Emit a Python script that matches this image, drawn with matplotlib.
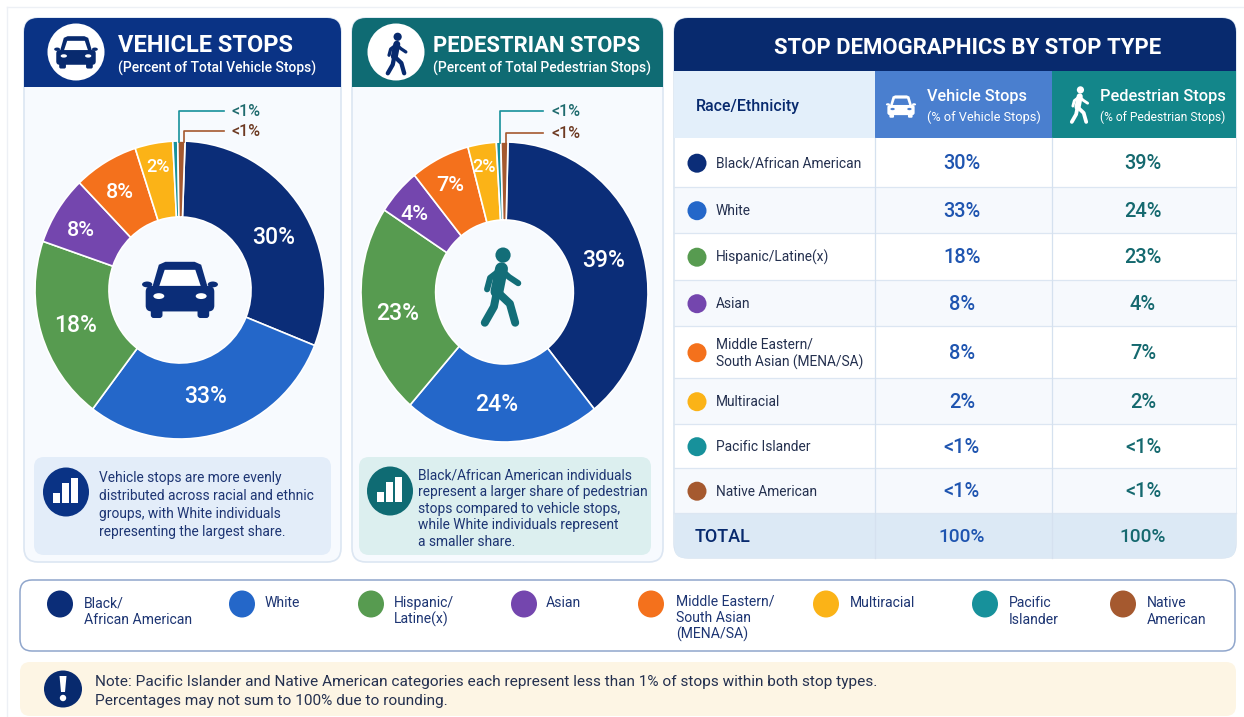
"""
Stop demographics infographic: two donuts, a table, legend and note.
Everything is laid out in pixel coordinates of the 1244x717 canvas.
"""
import numpy as np
import matplotlib
matplotlib.use("Agg")
import matplotlib.pyplot as plt
from matplotlib.patches import Circle, FancyBboxPatch, PathPatch, Polygon, Rectangle, Ellipse
from matplotlib.path import Path

plt.rcParams["font.family"] = ["Roboto", "DejaVu Sans"]

# ── Data ──────────────────────────────────────────────────────────────────────
groups = ["Black/African American", "White", "Hispanic/Latine(x)", "Asian",
          "Middle Eastern/\nSouth Asian (MENA/SA)", "Multiracial",
          "Pacific Islander", "Native American"]
legend_labels = ["Black/\nAfrican American", "White", "Hispanic/\nLatine(x)", "Asian",
                 "Middle Eastern/\nSouth Asian\n(MENA/SA)", "Multiracial",
                 "Pacific\nIslander", "Native\nAmerican"]
vehicle_labels = ["30%", "33%", "18%", "8%", "8%", "2%", "<1%", "<1%"]
pedestrian_labels = ["39%", "24%", "23%", "4%", "7%", "2%", "<1%", "<1%"]
# wedge sizes as they are actually drawn in the picture (not the rounded labels)
vehicle_shares = [30.5, 29.2, 20.0, 7.5, 7.2, 4.2, 0.55, 0.8]
pedestrian_shares = [38.9, 22.2, 22.8, 5.0, 6.7, 3.2, 0.5, 0.8]
total_labels = ["100%", "100%"]

vehicle_note = ["Vehicle stops are more evenly", "distributed across racial and ethnic",
                "groups, with White individuals", "representing the largest share."]
pedestrian_note = ["Black/African American individuals", "represent a larger share of pedestrian",
                   "stops compared to vehicle stops,", "while White individuals represent",
                   "a smaller share."]
footnote = ["Note: Pacific Islander and Native American categories each represent less than 1% of stops within both stop types.",
            "Percentages may not sum to 100% due to rounding."]

# ── Style ─────────────────────────────────────────────────────────────────────
W, H = 1244, 717
COLORS = ["#0B2D78", "#2467C9", "#579B50", "#7446AE", "#F4711C", "#FBB317", "#17919B", "#A5592F"]
NAVY = "#0A3385"
DEEP_NAVY = "#082A6E"
TEAL = "#0F6B73"
INK = "#1D3573"
GREY_INK = "#24304F"


def px(size):
    return size * 0.72


def round_rect(ax, x0, y0, x1, y1, r, fc, ec="none", lw=0, zorder=1):
    ax.add_patch(FancyBboxPatch((x0 + r, y0 + r), x1 - x0 - 2 * r, y1 - y0 - 2 * r,
                                boxstyle=f"round,pad={r},rounding_size={r}",
                                fc=fc, ec=ec, lw=lw, zorder=zorder))


def top_round_rect(ax, x0, y0, x1, y1, r, fc, zorder=2):
    verts = [(x0, y1), (x0, y0 + r), (x0, y0), (x0 + r, y0), (x1 - r, y0), (x1, y0),
             (x1, y0 + r), (x1, y1), (x0, y1)]
    codes = [Path.MOVETO, Path.LINETO, Path.CURVE3, Path.CURVE3, Path.LINETO,
             Path.CURVE3, Path.CURVE3, Path.LINETO, Path.CLOSEPOLY]
    ax.add_patch(PathPatch(Path(verts, codes), fc=fc, ec="none", zorder=zorder))


def draw_car(ax, cx, cy, w, color, bg, zorder=5):
    def pts(p):
        return [(cx + a * w, cy + b * w) for a, b in p]
    ax.add_patch(Polygon(pts([(-.40, .02), (-.29, -.36), (-.2, -.40), (.2, -.40), (.29, -.36), (.40, .02)]),
                         fc=color, ec="none", zorder=zorder))
    ax.add_patch(Polygon(pts([(-.29, -.05), (-.21, -.29), (.21, -.29), (.29, -.05)]),
                         fc=bg, ec="none", zorder=zorder + 1))
    for s in (-1, 1):
        ax.add_patch(Ellipse((cx + s * .45 * w, cy - .09 * w), .14 * w, .08 * w, fc=color, ec="none", zorder=zorder))
        ax.add_patch(FancyBboxPatch((cx + (s * .32 - .08) * w, cy + .2 * w), .16 * w, .17 * w,
                                    boxstyle=f"round,pad=0,rounding_size={.04 * w}",
                                    fc=color, ec="none", zorder=zorder))
        ax.add_patch(Ellipse((cx + s * .29 * w, cy + .07 * w), .15 * w, .08 * w, fc=bg, ec="none", zorder=zorder + 2))
    ax.add_patch(FancyBboxPatch((cx - .47 * w, cy - .07 * w), .94 * w, .35 * w,
                                boxstyle=f"round,pad=0,rounding_size={.08 * w}",
                                fc=color, ec="none", zorder=zorder + 1))


def draw_walker(ax, cx, cy, h, color, zorder=5):
    ax.add_patch(Circle((cx + .04 * h, cy - .42 * h), .10 * h, fc=color, ec="none", zorder=zorder))
    limbs = [([.02, -.04], [-.24, .06], .17),
             ([.02, .12, .24], [-.22, -.13, -.05], .08),
             ([.0, -.13, -.17], [-.22, -.12, .03], .08),
             ([-.04, .13, .2], [.06, .22, .47], .105),
             ([-.04, -.08, -.2], [.06, .26, .47], .105)]
    for xs, ys, lw in limbs:
        ax.plot([cx + a * h for a in xs], [cy + b * h for b in ys], color=color,
                lw=px(lw * h), solid_capstyle="round", solid_joinstyle="round", zorder=zorder)


def draw_bars(ax, cx, cy):
    for dx, tp in zip((-13, -4, 5), (1, -9, -14)):
        ax.add_patch(Rectangle((cx + dx, cy + tp), 7, 11 - tp, fc="white", ec="none", zorder=6))


# ── Canvas ────────────────────────────────────────────────────────────────────
fig = plt.figure(figsize=(W / 100, H / 100), dpi=100, facecolor="white")
ax = fig.add_axes([0, 0, 1, 1], zorder=0)
top = fig.add_axes([0, 0, 1, 1], zorder=3)
for a in (ax, top):
    a.set_xlim(0, W)
    a.set_ylim(H, 0)
    a.axis("off")
top.patch.set_alpha(0)

ax.plot([7, 1244], [7, 7], color="#EDF0F5", lw=1)
ax.plot([7, 7], [7, 717], color="#EDF0F5", lw=1)

# ── Donut cards ───────────────────────────────────────────────────────────────
cards = [
    dict(x0=24, x1=341, head=NAVY, title="VEHICLE STOPS", sub="(Percent of Total Vehicle Stops)",
         tsize=23.6, ssize=13.9, tx=118, icon_x=76, shares=vehicle_shares, labels=vehicle_labels,
         c=(180, 290), r=(145, 149), start=88, hole=.49,
         dist=[.746, .72, .75, .80, .788, .853], ang=[29.7, -75.6, 197.1, 148.7, 121.7, 100.3],
         lx=(179, 184), lend=224, ltx=232, ly=(111, 131), note=vehicle_note,
         box=(34, 331), box_fc="#E3EDF9", nc=(66, 492), nx=99, ny=478, ndy=18, nfc=NAVY),
    dict(x0=352, x1=663, head=TEAL, title="PEDESTRIAN STOPS", sub="(Percent of Total Pedestrian Stops)",
         tsize=22, ssize=13.7, tx=433, icon_x=396, shares=pedestrian_shares, labels=pedestrian_labels,
         c=(504.5, 292), r=(143.5, 150), start=88.6, hole=.48,
         dist=[.729, .735, .753, .826, .82, .859], ang=[18.1, -94, 189.7, 139.8, 117.6, 99.6],
         lx=(500, 506), lend=543, ltx=551, ly=(111, 133), note=pedestrian_note,
         box=(359, 651), box_fc="#DCEFEF", nc=(390, 491), nx=418, ny=475, ndy=16.8, nfc=TEAL),
]

for card in cards:
    round_rect(ax, card["x0"], 18, card["x1"], 562, 14, "#F7FAFE", ec="#DCE6F2", lw=1.2)
    top_round_rect(ax, card["x0"], 18, card["x1"], 87, 14, card["head"])
    ax.add_patch(Circle((card["icon_x"], 52), 28.5, fc="white", ec="none", zorder=3))
    ax.text(card["tx"], 46, card["title"], color="white", fontsize=px(card["tsize"]), fontweight="bold",
            va="center", ha="left", zorder=4)
    ax.text(card["tx"], 68, card["sub"], color="white", fontsize=px(card["ssize"]), fontweight="medium",
            va="center", ha="left", zorder=4)

    # donut, slightly taller than wide like the picture
    cx, cy = card["c"]
    rx, ry = card["r"]
    pie_ax = fig.add_axes([(cx - rx) / W, 1 - (cy + ry) / H, 2 * rx / W, 2 * ry / H], zorder=2)
    wedges, _ = pie_ax.pie(card["shares"], colors=COLORS, startangle=card["start"], counterclock=False,
                           radius=1, wedgeprops=dict(width=1 - card["hole"], edgecolor="white", linewidth=1.2))
    pie_ax.set_aspect("auto")
    pie_ax.set_xlim(-1, 1)
    pie_ax.set_ylim(-1, 1)
    for label, d, a_deg in zip(card["labels"], card["dist"], card["ang"]):
        ang = np.deg2rad(a_deg)
        size = 23 if d < .78 else (21.5 if d < .85 else 18)
        pie_ax.text(d * np.cos(ang), d * np.sin(ang) - 2.5 / ry, label, color="white", fontsize=px(size),
                    fontweight="medium", ha="center", va="center")

    # callouts for the two thin wedges
    for x, y, color, tcolor, label in zip(card["lx"], card["ly"], COLORS[6:], ("#1F6B6E", "#6E3A22"), card["labels"][6:]):
        top.plot([x, x, card["lend"]], [cy - ry + 1, y, y], color=color, lw=1.2)
        top.text(card["ltx"], y + 0.5, label, color=tcolor, fontsize=px(16), fontweight="medium", va="center", ha="left")

    # takeaway box
    round_rect(ax, card["box"][0], 457, card["box"][1], 555, 10, card["box_fc"])
    ax.add_patch(Ellipse(card["nc"], 46, 49, fc=card["nfc"], ec="none", zorder=4))
    draw_bars(ax, card["nc"][0], card["nc"][1])
    for i, line in enumerate(card["note"]):
        ax.text(card["nx"], card["ny"] + i * card["ndy"], line, color=INK, fontsize=px(13.7), va="center", ha="left", zorder=4)

# icons in the card headers and donut holes
draw_car(ax, 76, 53, 42, DEEP_NAVY, "white")
draw_walker(ax, 396, 54, 41, DEEP_NAVY)
draw_car(top, 180, 291, 73, "#0B2D78", "white")
draw_walker(top, 500, 287, 76, "#136E78")

# ── Table ─────────────────────────────────────────────────────────────────────
col_x = [674, 875, 1052, 1236]
row_y = [138, 187, 233, 280, 326, 378, 424, 468, 513, 558]

round_rect(ax, 674, 18, 1236, 558, 14, "white", ec="#D5E1EF", lw=1)
for i in range(8):
    ax.add_patch(Rectangle((674.5, row_y[i]), 561, row_y[i + 1] - row_y[i],
                           fc="white" if i % 2 == 0 else "#F6F9FD", ec="none", zorder=2))
top_round_rect(ax, 674, 18, 1236, 71, 14, DEEP_NAVY)
ax.text(968, 48.5, "STOP DEMOGRAPHICS BY STOP TYPE", color="white", fontsize=px(22.1), fontweight="bold",
        ha="center", va="center", zorder=4)
ax.add_patch(Rectangle((674, 71), 201, 67, fc="#E3EFFA", ec="none", zorder=2))
ax.add_patch(Rectangle((875, 71), 177, 67, fc="#4A7FCF", ec="none", zorder=2))
ax.add_patch(Rectangle((1052, 71), 184, 67, fc="#13868A", ec="none", zorder=2))
ax.text(696, 106.5, "Race/Ethnicity", color=DEEP_NAVY, fontsize=px(16), fontweight="medium", va="center", zorder=4)
draw_car(ax, 901, 107, 29, "white", "#4A7FCF")
draw_walker(ax, 1079, 105, 36, "white")
ax.text(927, 96.5, "Vehicle Stops", color="white", fontsize=px(16.2), fontweight="medium", va="center", zorder=4)
ax.text(927, 117, "(% of Vehicle Stops)", color="white", fontsize=px(12.7), va="center", zorder=4)
ax.text(1100, 96.5, "Pedestrian Stops", color="white", fontsize=px(16.4), fontweight="medium", va="center", zorder=4)
ax.text(1100, 117, "(% of Pedestrian Stops)", color="white", fontsize=px(12), va="center", zorder=4)

for i, (name, color, v, p) in enumerate(zip(groups, COLORS, vehicle_labels, pedestrian_labels)):
    y = (row_y[i] + row_y[i + 1]) / 2 + 1.2
    ax.add_patch(Circle((697, y - 0.5), 9.5, fc=color, ec="none", zorder=4))
    lines = name.split("\n")
    for k, line in enumerate(lines):
        ax.text(716, y + (k - (len(lines) - 1) / 2) * 18, line, color=GREY_INK, fontsize=px(13.7), va="center", zorder=4)
    ax.text(962, y, v, color="#1F55B0", fontsize=px(20), fontweight="medium", ha="center", va="center", zorder=4)
    ax.text(1143, y, p, color="#15696F", fontsize=px(20), fontweight="medium", ha="center", va="center", zorder=4)

ax.add_patch(FancyBboxPatch((674.5, 513), 561, 45, boxstyle="round,pad=0,rounding_size=10", fc="#DCE9F5", ec="none", zorder=2))
ax.add_patch(Rectangle((674.5, 513), 561, 20, fc="#DCE9F5", ec="none", zorder=2))
ax.text(695, 537.5, "TOTAL", color=DEEP_NAVY, fontsize=px(18), fontweight="medium", va="center", zorder=4)
ax.text(962, 537.5, total_labels[0], color="#1F55B0", fontsize=px(19), fontweight="medium", ha="center", va="center", zorder=4)
ax.text(1143, 537.5, total_labels[1], color="#15696F", fontsize=px(19), fontweight="medium", ha="center", va="center", zorder=4)

for y in row_y[1:-1]:
    ax.plot([674, 1236], [y, y], color="#DCE6F2", lw=0.9, zorder=3)
for x in col_x[1:3]:
    ax.plot([x, x], [138, 558], color="#D5E1EF", lw=0.9, zorder=3)

# ── Legend strip ──────────────────────────────────────────────────────────────
round_rect(ax, 20, 580, 1235, 651, 12, "white", ec="#90A6CC", lw=1.1)
legend_dot_x = [60, 242, 371, 524, 651, 826, 985, 1123]
legend_text_x = [84, 265, 394, 546, 676, 850, 1009, 1147]
for dot_x, text_x, label, color in zip(legend_dot_x, legend_text_x, legend_labels, COLORS):
    ax.add_patch(Ellipse((dot_x, 604), 26, 27, fc=color, ec="none", zorder=4))
    lines = label.split("\n")
    y0 = 601 if len(lines) == 3 else 603
    for k, line in enumerate(lines):
        ax.text(text_x, y0 + k * 16.5, line, color=INK, fontsize=px(14), va="center", zorder=4)

# ── Footnote ──────────────────────────────────────────────────────────────────
round_rect(ax, 20, 662, 1236, 716, 10, "#FDF5E4")
ax.add_patch(Ellipse((63, 689), 38, 37, fc=DEEP_NAVY, ec="none", zorder=4))
ax.add_patch(Polygon([(59.5, 676), (66.5, 676), (65, 692), (61, 692)], fc="white", ec="none", zorder=5))
ax.add_patch(Circle((63, 698), 3.2, fc="white", ec="none", zorder=5))
for i, line in enumerate(footnote):
    ax.text(95, 682 + i * 19, line, color=GREY_INK, fontsize=px(15.33), va="center", zorder=4)

fig.savefig("out.png", dpi=100, facecolor="white")
